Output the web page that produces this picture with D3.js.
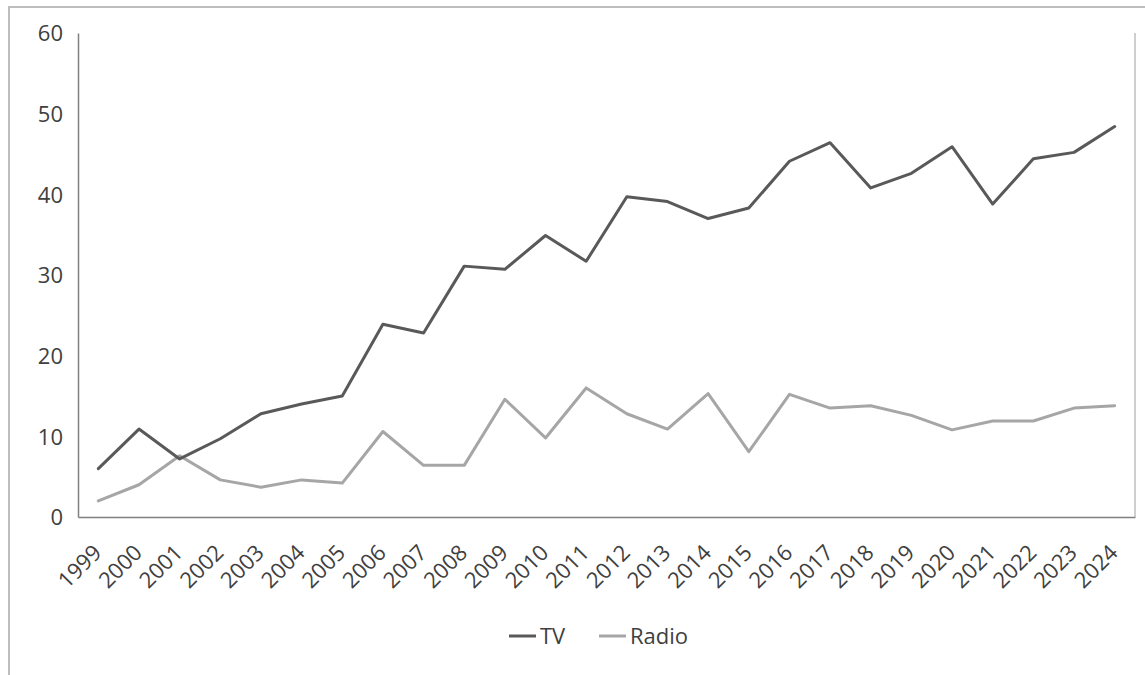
<!DOCTYPE html>
<html>
<head>
<meta charset="utf-8">
<script src="https://cdn.jsdelivr.net/npm/d3@7"></script>
<style>
  html, body { margin: 0; padding: 0; background: #fff; }
  svg { display: block; }
  text { font-family: "Open Sans", "Noto Sans", sans-serif; fill: #404040; }
</style>
</head>
<body>
<svg id="chart" width="1145" height="675"></svg>
<script>
const years = ["1999","2000","2001","2002","2003","2004","2005","2006","2007","2008","2009","2010","2011","2012","2013","2014","2015","2016","2017","2018","2019","2020","2021","2022","2023","2024"];
const tvValues = [6.0, 10.9, 7.2, 9.7, 12.8, 14.0, 15.0, 23.9, 22.8, 31.1, 30.7, 34.9, 31.7, 39.7, 39.1, 37.0, 38.3, 44.1, 46.4, 40.8, 42.6, 45.9, 38.8, 44.4, 45.2, 48.4];
const radioValues = [2.0, 4.0, 7.6, 4.6, 3.7, 4.6, 4.2, 10.6, 6.4, 6.4, 14.6, 9.8, 16.0, 12.8, 10.9, 15.3, 8.1, 15.2, 13.5, 13.8, 12.6, 10.8, 11.9, 11.9, 13.5, 13.8];
const yTicks = [0, 10, 20, 30, 40, 50, 60];
const seriesNames = ["TV", "Radio"];
const seriesColors = ["#595959", "#a6a6a6"];

const svg = d3.select("#chart");
const fontSize = 22;

// outer chart frame
svg.append("rect")
  .attr("x", 9).attr("y", 7).attr("width", 1160).attr("height", 700)
  .attr("fill", "none").attr("stroke", "#bdbdbd").attr("stroke-width", 2);

const mLeft = 78, mRight = 1135, mTop = 33, mBottom = 517;

const x = d3.scalePoint().domain(years).range([mLeft, mRight]).padding(0.5);
const y = d3.scaleLinear().domain([0, 60]).range([mBottom, mTop]);

// right plot border
svg.append("line")
  .attr("x1", mRight).attr("x2", mRight).attr("y1", mTop).attr("y2", mBottom)
  .attr("stroke", "#bfbfbf").attr("stroke-width", 1.5);

// y axis
const yAxis = svg.append("g")
  .attr("transform", `translate(${mLeft},0)`)
  .call(d3.axisLeft(y).tickValues(yTicks).tickSize(0).tickPadding(15).tickFormat(d3.format("d")));
yAxis.select(".domain").attr("stroke", "#808080").attr("stroke-width", 1.5);
yAxis.selectAll("text").attr("font-size", fontSize).attr("fill", "#404040")
  .attr("font-family", "'Open Sans', sans-serif").attr("dy", "0.36em");

// x axis
const xAxis = svg.append("g")
  .attr("transform", `translate(0,${mBottom})`)
  .call(d3.axisBottom(x).tickSize(0));
xAxis.select(".domain").attr("stroke", "#808080").attr("stroke-width", 1.5);
xAxis.selectAll("text")
  .attr("font-size", fontSize).attr("fill", "#404040")
  .attr("font-family", "'Open Sans', sans-serif")
  .attr("x", 0).attr("y", 0).attr("dy", 0)
  .attr("text-anchor", "end")
  .attr("transform", "translate(4,37) rotate(-45)");

// lines
const line = d3.line().x((d, i) => x(years[i])).y(d => y(d));
[[radioValues, 1], [tvValues, 0]].forEach(([vals, idx]) => {
  svg.append("path")
    .datum(vals)
    .attr("d", line)
    .attr("fill", "none")
    .attr("stroke", seriesColors[idx])
    .attr("stroke-width", 3)
    .attr("stroke-linejoin", "round")
    .attr("stroke-linecap", "round");
});

// legend
const legendItems = [
  { name: seriesNames[0], color: seriesColors[0], x: 509 },
  { name: seriesNames[1], color: seriesColors[1], x: 599 }
];
const lg = svg.append("g");
legendItems.forEach(it => {
  lg.append("line")
    .attr("x1", it.x).attr("x2", it.x + 27).attr("y1", 636).attr("y2", 636)
    .attr("stroke", it.color).attr("stroke-width", 3);
  lg.append("text")
    .attr("x", it.x + 31).attr("y", 644)
    .attr("font-size", fontSize).attr("fill", "#404040")
    .text(it.name);
});
</script>
</body>
</html>
